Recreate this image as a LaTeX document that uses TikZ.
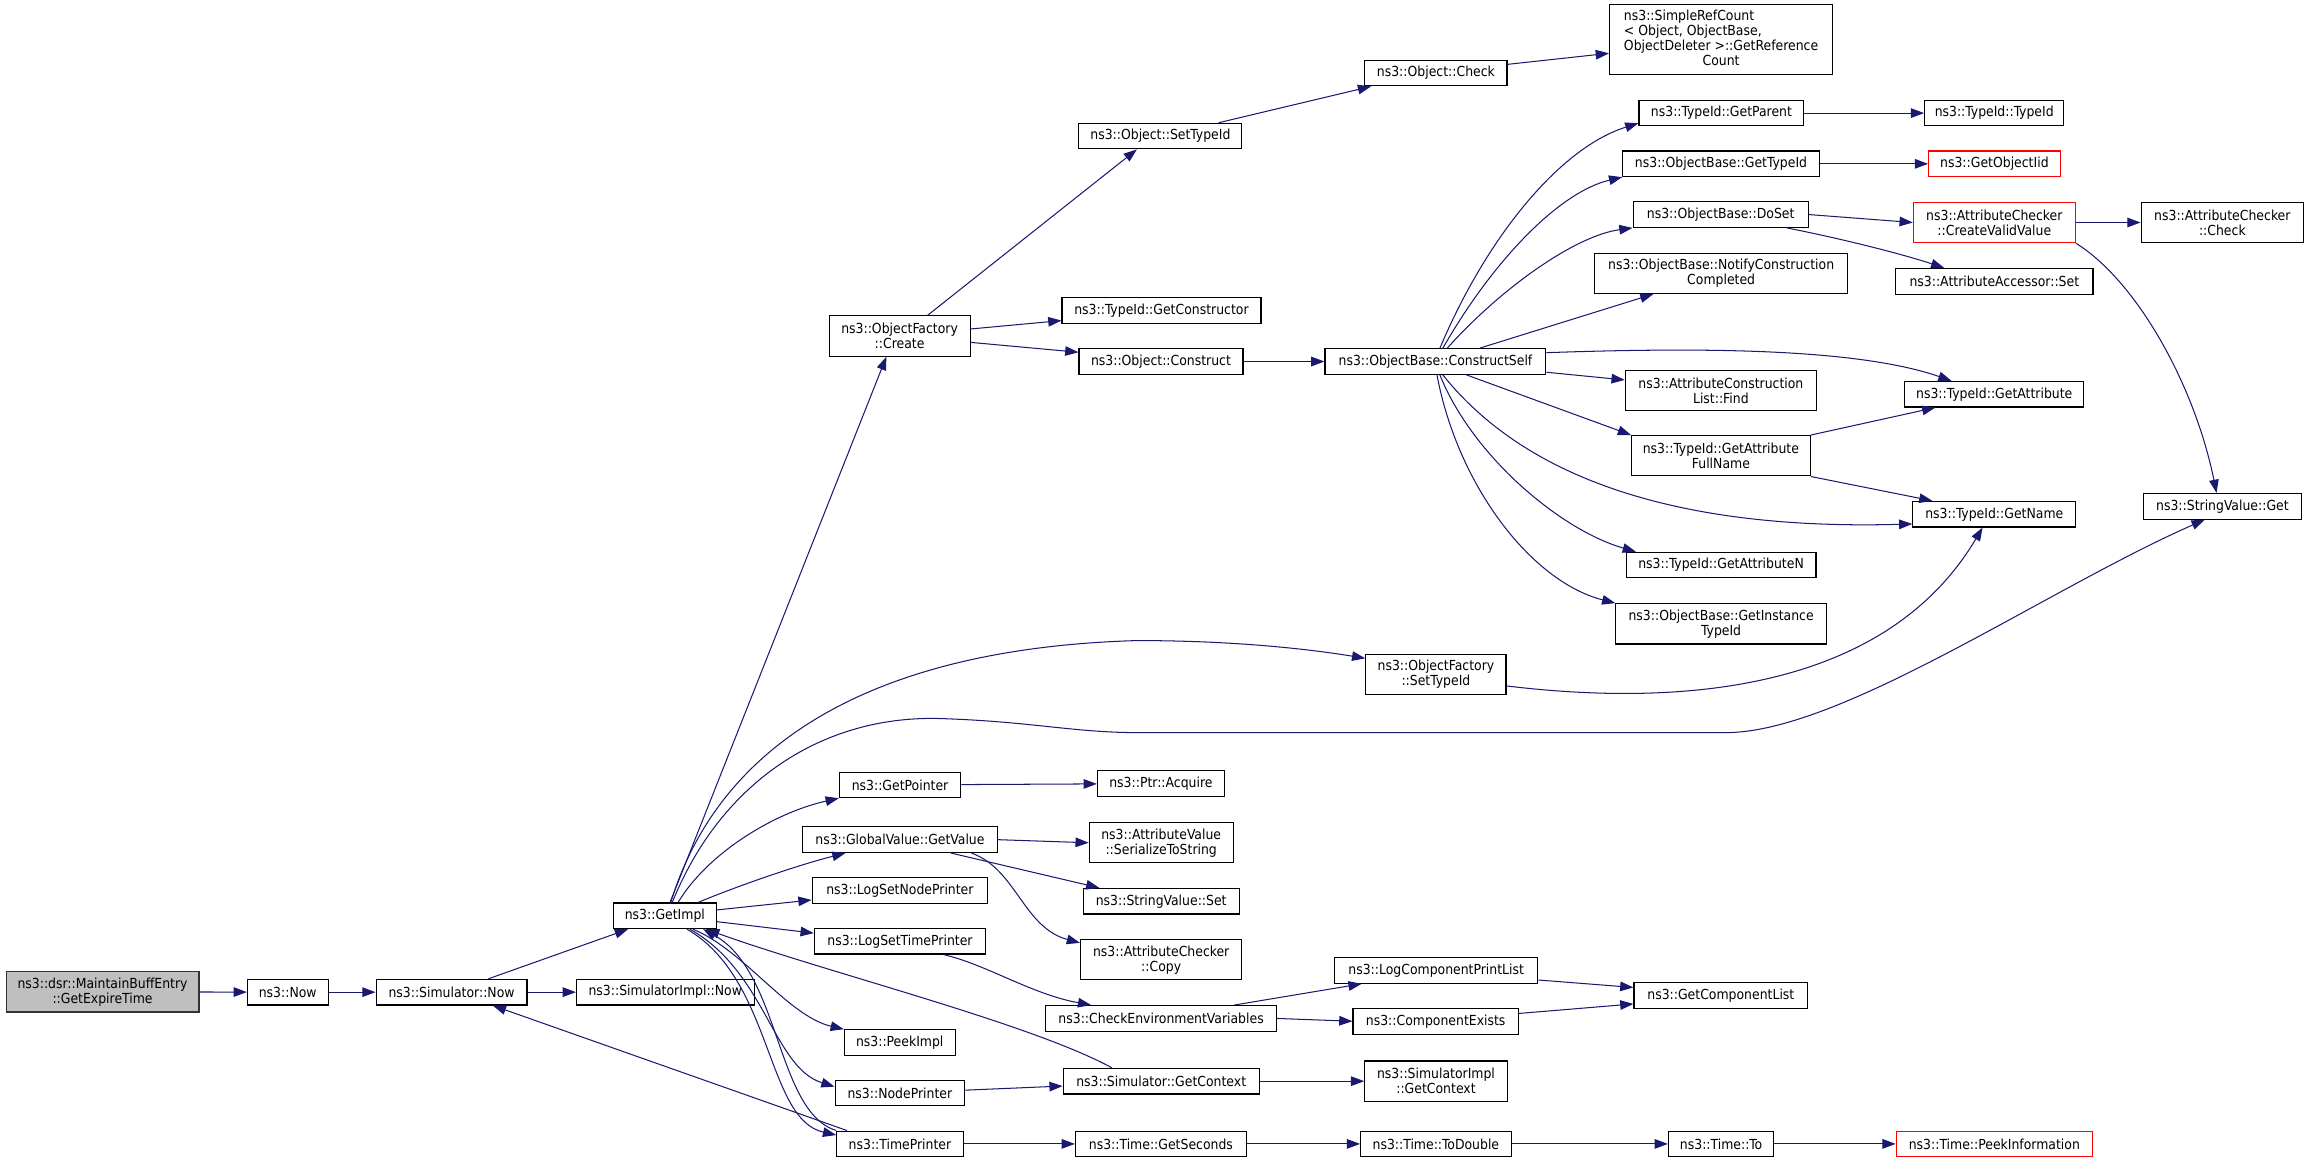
\documentclass[tikz,border=0pt]{standalone}
\usepackage{fontspec}
\setmainfont{DejaVu Sans Condensed}
\usetikzlibrary{arrows.meta}

\definecolor{edgeblue}{HTML}{191970}
\definecolor{rootgray}{HTML}{BFBFBF}

\tikzset{
  fn/.style={draw=black, line width=0.75pt, fill=white, inner sep=0pt,
    minimum height=17.4pt, align=center, font=\fontsize{9.4}{10.2}\selectfont},
  fn2/.style={fn, minimum height=27.4pt},
  missing/.style={draw=red},
  root/.style={fn2, fill=rootgray, draw=black!80},
  call/.style={edgeblue, line width=0.7pt, -{Triangle[length=9pt,width=6.5pt]}},
}

\begin{document}
\begin{tikzpicture}[x=1pt, y=-1pt]
\path[use as bounding box, fill=white] (0,0) rectangle (1568,789.8);

% caller chain
\node[root, minimum width=130.9pt] (main) at (69.65,673.5) {ns3::dsr::MaintainBuffEntry\\::GetExpireTime};
\node[fn, minimum width=54.8pt] (now) at (195.4,673.75) {ns3::Now};
\node[fn, minimum width=102.5pt] (simnow) at (306.65,673.75) {ns3::Simulator::Now};
\node[fn, minimum width=120.6pt] (simimplnow) at (451.8,673.75) {ns3::SimulatorImpl::Now};
\node[fn, minimum width=70pt] (getimpl) at (451.5,621.9) {ns3::GetImpl};

% column of GetImpl callees
\node[fn2, minimum width=95.7pt] (ofcreate) at (610.9,228.2) {ns3::ObjectFactory\\::Create};
\node[fn, minimum width=82.4pt] (getpointer) at (611.2,533) {ns3::GetPointer};
\node[fn, minimum width=132.3pt] (globalvalue) at (611.15,570.2) {ns3::GlobalValue::GetValue};
\node[fn, minimum width=119.2pt] (logsetnodeprinter) at (611.1,604.65) {ns3::LogSetNodePrinter};
\node[fn, minimum width=116.3pt] (logsettimeprinter) at (611.15,639.15) {ns3::LogSetTimePrinter};
\node[fn, minimum width=75.2pt] (peekimpl) at (611,708) {ns3::PeekImpl};
\node[fn, minimum width=88pt] (nodeprinter) at (611.1,742.3) {ns3::NodePrinter};
\node[fn, minimum width=85.9pt] (timeprinter) at (611.15,776.8) {ns3::TimePrinter};

% next column
\node[fn, minimum width=110.7pt] (objsettypeid) at (788,92.4) {ns3::Object::SetTypeId};
\node[fn, minimum width=135.1pt] (getconstructor) at (788.75,210.9) {ns3::TypeId::GetConstructor};
\node[fn, minimum width=111.4pt] (objconstruct) at (788.4,245.5) {ns3::Object::Construct};
\node[fn, minimum width=86.3pt] (ptracquire) at (788.35,532.1) {ns3::Ptr::Acquire};
\node[fn2, minimum width=97.7pt] (serializetostring) at (788.55,572.3) {ns3::AttributeValue\\::SerializeToString};
\node[fn, minimum width=106.1pt] (stringvalueset) at (788.55,612) {ns3::StringValue::Set};
\node[fn2, minimum width=109.5pt] (accopy) at (788.55,651.75) {ns3::AttributeChecker\\::Copy};
\node[fn, minimum width=156.6pt] (checkenvvars) at (788.5,691.6) {ns3::CheckEnvironmentVariables};
\node[fn, minimum width=133.1pt] (simgetcontext) at (788.55,734.2) {ns3::Simulator::GetContext};
\node[fn, minimum width=116.1pt] (timegetseconds) at (788.35,776.8) {ns3::Time::GetSeconds};

% next column
\node[fn, minimum width=96.5pt] (objcheck) at (975.1,49.6) {ns3::Object::Check};
\node[fn, minimum width=150pt] (constructself) at (974.8,245.5) {ns3::ObjectBase::ConstructSelf};
\node[fn2, minimum width=95.2pt] (ofsettypeid) at (975.1,458) {ns3::ObjectFactory\\::SetTypeId};
\node[fn, minimum width=138pt] (logcompprintlist) at (975.3,659) {ns3::LogComponentPrintList};
\node[fn, minimum width=112.3pt] (componentexists) at (974.95,693.5) {ns3::ComponentExists};
\node[fn2, minimum width=96.7pt] (simimplgetcontext) at (975.15,734.2) {ns3::SimulatorImpl\\::GetContext};
\node[fn, minimum width=102.2pt] (timetodouble) at (975.1,776.8) {ns3::Time::ToDouble};

% next column
\node[fn, minimum width=151.5pt, minimum height=47.5pt] (simplerefcount) at (1168.75,27)
  {\begin{tabular}{@{}l@{}}ns3::SimpleRefCount\\
   \textless{} Object, ObjectBase,\\
   \multicolumn{1}{@{}c@{}}{ ObjectDeleter \textgreater::GetReference}\\
   \multicolumn{1}{@{}c@{}}{Count}\end{tabular}};
\node[fn, minimum width=112pt] (getparent) at (1169,76.8) {ns3::TypeId::GetParent};
\node[fn, minimum width=133.4pt] (getobjbasetypeid) at (1168.7,111.25) {ns3::ObjectBase::GetTypeId};
\node[fn, minimum width=119pt] (doset) at (1168.5,145.7) {ns3::ObjectBase::DoSet};
\node[fn2, minimum width=171.6pt] (notifyconstruction) at (1168.8,185.6) {ns3::ObjectBase::NotifyConstruction\\Completed};
\node[fn2, minimum width=129.8pt] (aclistfind) at (1168.6,265.2) {ns3::AttributeConstruction\\List::Find};
\node[fn2, minimum width=121.3pt] (getattrfullname) at (1168.65,309.5) {ns3::TypeId::GetAttribute\\FullName};
\node[fn, minimum width=128.9pt] (getattributen) at (1168.75,383.75) {ns3::TypeId::GetAttributeN};
\node[fn2, minimum width=143pt] (getinstancetypeid) at (1168.8,423.65) {ns3::ObjectBase::GetInstance\\TypeId};
\node[fn, minimum width=118pt] (getcomponentlist) at (1168.6,676.15) {ns3::GetComponentList};
\node[fn, minimum width=71.6pt] (timeto) at (1168.8,776.8) {ns3::Time::To};

% next column
\node[fn, minimum width=94.5pt] (typeidtypeid) at (1354.25,76.8) {ns3::TypeId::TypeId};
\node[fn, missing, minimum width=89.3pt] (getobjectiid) at (1354.35,111.25) {ns3::GetObjectIid};
\node[fn2, missing, minimum width=110pt] (createvalidvalue) at (1354.3,151.1) {ns3::AttributeChecker\\::CreateValidValue};
\node[fn, minimum width=134pt] (accessorset) at (1354.3,191) {ns3::AttributeAccessor::Set};
\node[fn, minimum width=121.5pt] (getattribute) at (1354.25,267.7) {ns3::TypeId::GetAttribute};
\node[fn, minimum width=110.6pt] (getname) at (1354.3,349.2) {ns3::TypeId::GetName};
\node[fn, missing, minimum width=133.3pt] (peekinformation) at (1354.35,776.8) {ns3::Time::PeekInformation};

% last column
\node[fn2, minimum width=110.3pt] (accheck) at (1509.15,151.1) {ns3::AttributeChecker\\::Check};
\node[fn, minimum width=107pt] (stringvalueget) at (1509.2,343.8) {ns3::StringValue::Get};

% calls
\draw[call] (main) -- (now);
\draw[call] (now) -- (simnow);
\draw[call] (simnow) -- (simimplnow);
\draw[call] ([xshift=25pt]simnow.north) -- ([xshift=-25pt]getimpl.south);
\draw[call] ([xshift=-36pt]timeprinter.north) -- ([xshift=28pt]simnow.south);

\draw[call] ([xshift=3.5pt]getimpl.north) -- ([xshift=-9pt]ofcreate.south);
\draw[call] ([xshift=4pt]getimpl.north) .. controls (490,500) and (600,440) .. (772,435)
  .. controls (840,435) and (890,441) .. ([yshift=11pt]ofsettypeid.west);
\draw[call] ([xshift=5pt]getimpl.north) .. controls (490,530) and (560,485) .. (640,488)
  .. controls (700,490) and (730,497.5) .. (772,497.5) -- (1172,497.5)
  .. controls (1250,497.5) and (1390,400) .. ([xshift=-12pt]stringvalueget.south);
\draw[call] ([xshift=9pt]getimpl.north) .. controls (480,580) and (525,552) .. (getpointer.south west);
\draw[call] ([xshift=22.5pt]getimpl.north) .. controls (500,602) and (540,588) .. ([xshift=-37pt]globalvalue.south);
\draw[call] ([yshift=4pt]getimpl.east) -- ([yshift=-6.5pt]logsetnodeprinter.west);
\draw[call] ([yshift=-4pt]getimpl.east) -- ([yshift=5.5pt]logsettimeprinter.west);
\draw[call] ([xshift=19pt]getimpl.south) .. controls (505,645) and (535,690) .. (peekimpl.north west);
\draw[call] ([xshift=17pt]getimpl.south) .. controls (520,660) and (525,725) .. ([yshift=4.4pt]nodeprinter.west);
\draw[call] ([xshift=15pt]getimpl.south) .. controls (525,665) and (520,760) .. ([yshift=6pt]timeprinter.west);
\draw[call] (timeprinter.north west) .. controls (527,755) and (530,660) .. ([xshift=26pt]getimpl.south);
\draw[call] ([xshift=-33.5pt]simgetcontext.north) .. controls (700,695) and (560,660) .. ([xshift=28pt]getimpl.south);

\draw[call] ([xshift=19pt]ofcreate.north) -- ([xshift=-16pt]objsettypeid.south);
\draw[call] ([yshift=4.8pt]ofcreate.east) -- ([yshift=-6.8pt]getconstructor.west);
\draw[call] ([yshift=-4.3pt]ofcreate.east) -- ([yshift=6.3pt]objconstruct.west);
\draw[call] ([xshift=39.6pt]objsettypeid.north) -- ([xshift=-44pt]objcheck.south);
\draw[call] ([yshift=5.9pt]objcheck.east) -- ([yshift=-9.2pt]simplerefcount.west);
\draw[call] (objconstruct) -- (constructself);

\draw[call] ([xshift=3pt]constructself.north) .. controls (1010,160) and (1060,100) .. ([yshift=-6.9pt]getparent.west);
\draw[call] ([xshift=5pt]constructself.north) .. controls (1015,175) and (1060,130) .. (getobjbasetypeid.south west);
\draw[call] ([xshift=8pt]constructself.north) .. controls (1020,195) and (1070,160) .. (doset.south west);
\draw[call] ([xshift=30pt]constructself.north) -- ([xshift=-46pt]notifyconstruction.south);
\draw[call] ([yshift=6pt]constructself.east) .. controls (1150,236) and (1260,236) .. ([xshift=-29pt]getattribute.north);
\draw[call] ([yshift=-7.3pt]constructself.east) -- ([yshift=7.2pt]aclistfind.west);
\draw[call] ([xshift=21pt]constructself.south) -- (getattrfullname.north west);
\draw[call] ([xshift=5pt]constructself.south) .. controls (1040,330) and (1150,360) .. ([yshift=-6.6pt]getname.west);
\draw[call] ([xshift=3pt]constructself.south) .. controls (1000,310) and (1060,360) .. ([xshift=7pt]getattributen.north west);
\draw[call] ([xshift=1pt]constructself.south) .. controls (990,330) and (1040,395) .. (getinstancetypeid.north west);

\draw[call] (getparent) -- (typeidtypeid);
\draw[call] (getobjbasetypeid) -- (getobjectiid);
\draw[call] (doset.east) -- (createvalidvalue.west);
\draw[call] ([xshift=45pt]doset.south) .. controls (1250,162) and (1290,172) .. ([xshift=-34pt]accessorset.north);
\draw[call] (createvalidvalue) -- (accheck);
\draw[call] (createvalidvalue.south east) .. controls (1450,190) and (1490,260) .. ([xshift=-4pt]stringvalueget.north);
\draw[call] (getattrfullname.north east) -- ([xshift=-40pt]getattribute.south);
\draw[call] (getattrfullname.south east) -- ([xshift=-42pt]getname.north);
\draw[call] ([yshift=-7.8pt]ofsettypeid.east) .. controls (1140,480) and (1280,470) .. ([xshift=-8pt]getname.south);

\draw[call] (getpointer) -- (ptracquire);
\draw[call] (globalvalue.east) -- (serializetostring.west);
\draw[call] ([xshift=34.6pt]globalvalue.south) -- ([xshift=-42pt]stringvalueset.north);
\draw[call] ([xshift=48.5pt]globalvalue.south) .. controls (690,590) and (695,630) .. ([yshift=-2.6pt]accopy.north west);
\draw[call] ([xshift=29.5pt]logsettimeprinter.south) .. controls (670,655) and (700,675) .. ([xshift=-47.5pt]checkenvvars.north);
\draw[call] ([xshift=49.5pt]checkenvvars.north) -- ([xshift=-50.6pt]logcompprintlist.south);
\draw[call] (checkenvvars.east) -- (componentexists.west);
\draw[call] ([yshift=-6.5pt]logcompprintlist.east) -- ([yshift=5.6pt]getcomponentlist.west);
\draw[call] ([yshift=5.3pt]componentexists.east) -- ([yshift=-5.6pt]getcomponentlist.west);
\draw[call] ([yshift=2pt]nodeprinter.east) -- ([yshift=-3.3pt]simgetcontext.west);
\draw[call] (simgetcontext) -- (simimplgetcontext);
\draw[call] (timeprinter) -- (timegetseconds);
\draw[call] (timegetseconds) -- (timetodouble);
\draw[call] (timetodouble) -- (timeto);
\draw[call] (timeto) -- (peekinformation);
\end{tikzpicture}
\end{document}
